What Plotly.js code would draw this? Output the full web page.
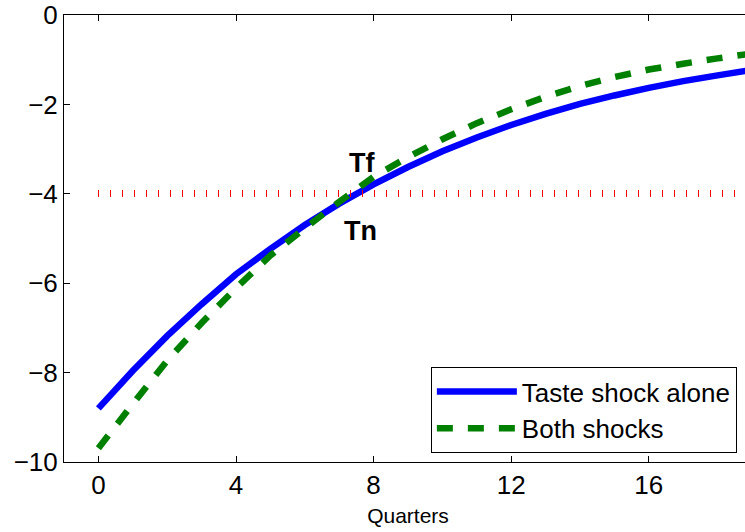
<!DOCTYPE html>
<html>
<head>
<meta charset="utf-8">
<script src="https://cdn.plot.ly/plotly-3.0.1.min.js"></script>
<style>
html, body { margin: 0; padding: 0; overflow: hidden; background: #fff; }
#chart { width: 760px; height: 532px; }
#chart .scatterlayer .trace:last-child path.js-line { shape-rendering: crispEdges; }
</style>
</head>
<body>
<div id="chart"></div>
<script>
// Quarters after the shock
const quarters = [0, 1, 2, 3, 4, 5, 6, 7, 8, 9, 10, 11, 12, 13, 14, 15, 16, 17, 18, 19];
// Taste shock alone
const tasteShockAlone = [-8.80, -7.96, -7.18, -6.47, -5.80, -5.23, -4.70, -4.22, -3.79, -3.40,
                         -3.05, -2.74, -2.46, -2.21, -1.99, -1.80, -1.63, -1.48, -1.35, -1.23];
// Both shocks
const bothShocks = [-9.69, -8.70, -7.73, -6.89, -6.11, -5.38, -4.77, -4.18, -3.62, -3.18,
                    -2.78, -2.42, -2.11, -1.83, -1.59, -1.39, -1.22, -1.09, -0.97, -0.86];
// Threshold reference line
const thresholdX = [0, 19];
const thresholdY = [-4, -4];
// Labels
const seriesNames = ['Taste shock alone', 'Both shocks'];
const xTicks = [0, 4, 8, 12, 16];
const yTicks = [0, -2, -4, -6, -8, -10];
const pointLabels = ['Tf', 'Tn'];
const xTitle = 'Quarters';

const FONT = 'Liberation Sans, Arial, Helvetica, sans-serif';

const traces = [
  {
    x: quarters, y: tasteShockAlone, name: seriesNames[0], type: 'scatter', mode: 'lines',
    line: { color: '#0000ff', width: 6.5, simplify: false }
  },
  {
    x: quarters, y: bothShocks, name: seriesNames[1], type: 'scatter', mode: 'lines',
    line: { color: '#008000', width: 6.5, dash: '16px,15px', simplify: false }
  },
  {
    x: thresholdX, y: thresholdY, type: 'scatter', mode: 'lines', showlegend: false,
    line: { color: '#ff0000', width: 7, dash: '1px,11px' }, hoverinfo: 'skip'
  }
];

const axisCommon = {
  showline: true, linecolor: '#000', linewidth: 1, mirror: 'ticks',
  ticks: 'inside', ticklen: 6, tickcolor: '#000', tickwidth: 1,
  showgrid: false, zeroline: false,
  tickfont: { family: FONT, size: 26, color: '#000' }
};

const layout = {
  width: 760, height: 532,
  margin: { l: 64, r: 8, t: 15, b: 68 },
  paper_bgcolor: '#fff', plot_bgcolor: '#fff',
  showlegend: true,
  xaxis: Object.assign({}, axisCommon, {
    range: [-1, 19], tickmode: 'array', tickvals: xTicks, automargin: true,
    title: { text: xTitle, font: { family: FONT, size: 21, color: '#000' }, standoff: 9 }
  }),
  yaxis: Object.assign({}, axisCommon, {
    range: [-10, 0], tickmode: 'array', tickvals: yTicks
  }),
  legend: {
    x: 0.978, xanchor: 'right', y: 0.02, yanchor: 'bottom',
    bgcolor: '#fff', bordercolor: '#000', borderwidth: 1,
    font: { family: FONT, size: 26, color: '#000' },
    itemwidth: 80, tracegroupgap: 0
  },
  annotations: [
    { x: 7.65, y: -3.31, xref: 'x', yref: 'y', text: '<b>' + pointLabels[0] + '</b>', showarrow: false,
      font: { family: FONT, size: 27, color: '#000' } },
    { x: 7.62, y: -4.83, xref: 'x', yref: 'y', text: '<b>' + pointLabels[1] + '</b>', showarrow: false,
      font: { family: FONT, size: 27, color: '#000' } }
  ]
};

Plotly.newPlot('chart', traces, layout, { displayModeBar: false, staticPlot: true });
</script>
</body>
</html>
